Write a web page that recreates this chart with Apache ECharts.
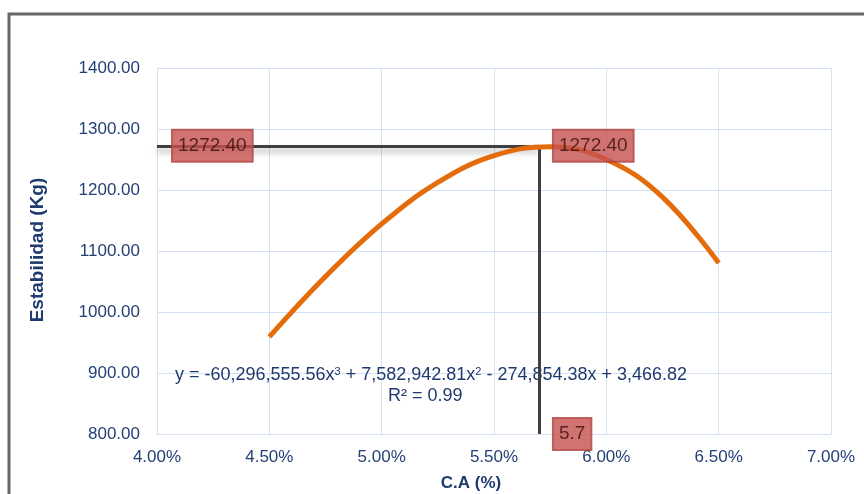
<!DOCTYPE html>
<html>
<head>
<meta charset="utf-8">
<script src="https://cdn.jsdelivr.net/npm/echarts@6/dist/echarts.min.js"></script>
<style>
  html, body { margin: 0; padding: 0; background: #ffffff; }
  #chart { width: 864px; height: 494px; }
</style>
</head>
<body>
<div id="chart"></div>
<script>
// Stability vs. asphalt content (C.A %) – cubic trend curve
const caPercent = [4.50, 4.75, 5.00, 5.25, 5.50, 5.75, 6.00, 6.25, 6.50];
const estabilidad = [959.3, 1058.2, 1144.4, 1212.4, 1256.4, 1270.9, 1250.1, 1188.4, 1080.3];

// Optimum point
const optimoCA = 5.7;
const optimoEstabilidad = 1272.40;

// Axis ranges and tick labels
const xMin = 4.0, xMax = 7.0, xStep = 0.5;
const yMin = 800, yMax = 1400, yStep = 100;

const tituloX = 'C.A (%)';
const tituloY = 'Estabilidad (Kg)';
const ecuacion = 'y = -60,296,555.56x{sup|3} + 7,582,942.81x{sup|2} - 274,854.38x + 3,466.82';
const r2Texto = 'R² = 0.99';

const navy = '#1F3A6E';
const labelNavy = '#233F74';
const gridBlue = '#D5E2F4';
const FONT = 'Liberation Sans, Arial, sans-serif';

const chart = echarts.init(document.getElementById('chart'), null, { renderer: 'canvas' });

const boxLabel = {
  show: true,
  position: 'right',
  distance: 14,
  backgroundColor: '#C4504D',
  borderColor: '#A63F3C',
  borderWidth: 1,
  padding: [4, 6],
  color: '#3A0C0C',
  fontFamily: FONT,
  fontSize: 19,
  lineHeight: 24
};

chart.setOption({
  animation: false,
  backgroundColor: '#ffffff',
  grid: { left: 157, right: 33, top: 68, bottom: 60, containLabel: false },
  xAxis: {
    type: 'value',
    min: xMin, max: xMax, interval: xStep,
    axisLine: { show: true, lineStyle: { color: gridBlue, width: 1 } },
    axisTick: { show: false },
    axisLabel: {
      color: labelNavy, fontSize: 17, fontFamily: FONT, margin: 15,
      formatter: v => v.toFixed(2) + '%'
    },
    splitLine: { show: true, lineStyle: { color: gridBlue, width: 1 } }
  },
  yAxis: {
    type: 'value',
    min: yMin, max: yMax, interval: yStep,
    axisLine: { show: true, lineStyle: { color: gridBlue, width: 1 } },
    axisTick: { show: false },
    axisLabel: {
      color: labelNavy, fontSize: 17, fontFamily: FONT, margin: 17,
      formatter: v => v.toFixed(2)
    },
    splitLine: { show: true, lineStyle: { color: gridBlue, width: 1 } }
  },
  graphic: [
    {
      type: 'rect',
      z: 1,
      shape: { x: 9, y: 14, width: 1000, height: 1000 },
      style: { fill: 'none', stroke: '#666666', lineWidth: 3 },
      silent: true
    },
    {
      type: 'text',
      z: 1,
      x: 471, y: 483,
      style: {
        text: tituloX, fill: navy, font: 'bold 17px ' + FONT,
        align: 'center', verticalAlign: 'middle'
      },
      silent: true
    },
    {
      type: 'text',
      z: 1,
      x: 38, y: 250,
      rotation: Math.PI / 2,
      style: {
        text: tituloY, fill: navy, font: 'bold 19px ' + FONT,
        align: 'center', verticalAlign: 'middle'
      },
      silent: true
    },
    {
      type: 'text',
      z: 1,
      left: 175, top: 366,
      style: {
        text: ecuacion,
        fill: navy,
        font: '18px ' + FONT,
        rich: { sup: { fontSize: 11, verticalAlign: 'top', padding: [0, 0, 8, 0], fill: navy } }
      },
      silent: true
    },
    {
      type: 'text',
      z: 1,
      left: 388, top: 387,
      style: { text: r2Texto, fill: navy, font: '18px ' + FONT },
      silent: true
    }
  ],
  series: [
    {
      name: 'Estabilidad',
      type: 'line',
      data: caPercent.map((x, i) => [x, estabilidad[i]]),
      smooth: 0.4,
      showSymbol: false,
      z: 4,
      lineStyle: { color: '#E46C0A', width: 5 },
      itemStyle: { color: '#E46C0A' },
      markLine: {
        silent: true,
        symbol: 'none',
        label: { show: false },
        z: 3,
        data: [
          [
            { coord: [xMin, optimoEstabilidad], lineStyle: { color: '#3F3F3F', width: 3, type: 'solid', shadowColor: 'rgba(0,0,0,0.35)', shadowBlur: 6, shadowOffsetY: 4 } },
            { coord: [optimoCA, optimoEstabilidad] }
          ],
          [
            { coord: [optimoCA, optimoEstabilidad], lineStyle: { color: '#3F3F3F', width: 3, type: 'solid' } },
            { coord: [optimoCA, yMin] }
          ]
        ]
      }
    },
    {
      name: 'Etiquetas',
      type: 'scatter',
      symbolSize: 0,
      clip: false,
      z: 6,
      silent: true,
      data: [
        { value: [xMin, optimoEstabilidad], label: Object.assign({}, boxLabel, { distance: 15, formatter: optimoEstabilidad.toFixed(2) }) },
        { value: [optimoCA, optimoEstabilidad], label: Object.assign({}, boxLabel, { formatter: optimoEstabilidad.toFixed(2) }) },
        { value: [optimoCA, yMin], label: Object.assign({}, boxLabel, { formatter: String(optimoCA) }) }
      ]
    }
  ]
});
</script>
</body>
</html>
